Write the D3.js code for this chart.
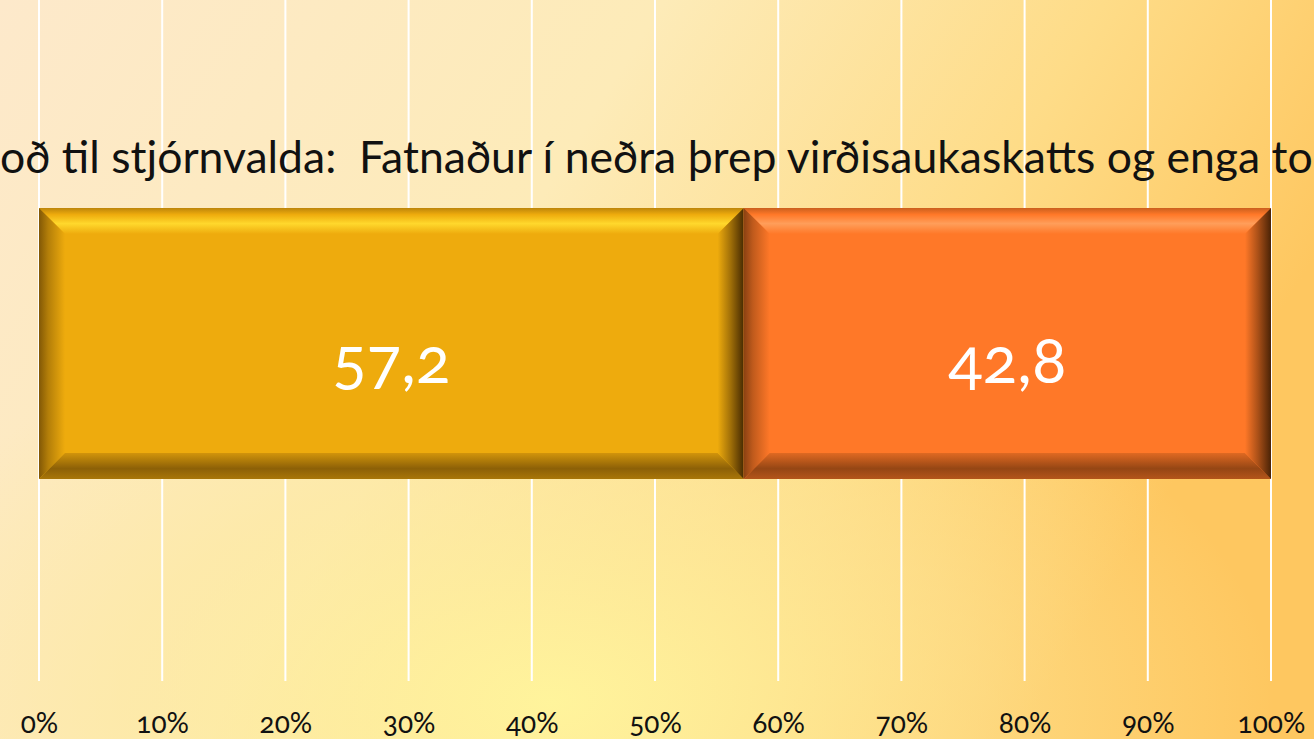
<!DOCTYPE html>
<html>
<head>
<meta charset="utf-8">
<script src="https://cdn.jsdelivr.net/npm/d3@7"></script>
<style>
  html, body { margin: 0; padding: 0; overflow: hidden; }
  svg { display: block; }
  text { font-family: Lato, "Open Sans", sans-serif; font-variant-numeric: oldstyle-nums; font-feature-settings: "onum" 1; }
</style>
</head>
<body>
<div class="chart"></div>
<script>
// data
var categories = ["Tilboð til stjórnvalda"];
var series = ["Já", "Nei"];
var values = [57.2, 42.8];
var seriesColors = ["#eeab0d", "#ff7828"];
var tickValues = [0, 10, 20, 30, 40, 50, 60, 70, 80, 90, 100];
var title = "Tilboð til stjórnvalda:  Fatnaður í neðra þrep virðisaukaskatts og enga tolla";

var W = 1314, H = 739;

var svg = d3.select(".chart").append("svg")
  .attr("width", W)
  .attr("height", H);

var defs = svg.append("defs");

// background
var bg = defs.append("linearGradient").attr("id", "bg")
  .attr("x1", 0).attr("y1", 0).attr("x2", 1).attr("y2", 0.35);
bg.append("stop").attr("offset", "0").attr("stop-color", "#fde9cb");
bg.append("stop").attr("offset", "0.45").attr("stop-color", "#fdebb8");
bg.append("stop").attr("offset", "0.75").attr("stop-color", "#fedc88");
bg.append("stop").attr("offset", "1").attr("stop-color", "#fec760");
svg.append("rect").attr("width", W).attr("height", H).attr("fill", "url(#bg)");

var glow = defs.append("radialGradient").attr("id", "glow")
  .attr("cx", 0.42).attr("cy", 0.95).attr("r", 0.55);
glow.append("stop").attr("offset", "0").attr("stop-color", "#fff59c").attr("stop-opacity", 0.95);
glow.append("stop").attr("offset", "0.6").attr("stop-color", "#fde89a").attr("stop-opacity", 0.5);
glow.append("stop").attr("offset", "1").attr("stop-color", "#fde89a").attr("stop-opacity", 0);
svg.append("rect").attr("width", W).attr("height", H).attr("fill", "url(#glow)");

var x = d3.scaleLinear().domain([0, 100]).range([39, 1271]);
var y = d3.scaleBand().domain(categories).range([208, 479]).padding(0);

// gridlines
svg.append("g").selectAll("line")
  .data(tickValues)
  .enter().append("line")
  .attr("x1", function(d) { return x(d); })
  .attr("x2", function(d) { return x(d); })
  .attr("y1", 0)
  .attr("y2", 681)
  .attr("stroke", "#ffffff")
  .attr("stroke-width", 2);

// title - runs off both edges like the slide
function textWidth(s, fs) {
  var p = svg.append("text").attr("font-size", fs).style("white-space", "pre").text(s);
  var w = p.node().getComputedTextLength();
  p.remove();
  return w;
}
var fs0 = 41;
var span = textWidth("oð til stjórnvalda:  Fatnaður í neðra þrep virðisaukaskatts og enga ", fs0);
var fs = fs0 * 1272 / span;
var pre = textWidth("Tilb", fs);
svg.append("text")
  .attr("x", -pre)
  .attr("y", 173)
  .attr("font-size", fs)
  .attr("fill", "#111")
  .style("white-space", "pre")
  .text(title);

// stacked segments
var segs = [];
var acc = 0;
values.forEach(function(v, i) {
  segs.push({ name: series[i], value: v, x0: acc, x1: acc + v, color: seriesColors[i] });
  acc += v;
});

var bev = 26;

function grad(id, x1, y1, x2, y2, stops) {
  var g = defs.append("linearGradient").attr("id", id)
    .attr("x1", x1).attr("y1", y1).attr("x2", x2).attr("y2", y2);
  stops.forEach(function(s) {
    g.append("stop").attr("offset", s[0]).attr("stop-color", s[1]);
  });
}

var bars = svg.append("g");
segs.forEach(function(d, i) {
  var a = x(d.x0), b = x(d.x1), top = y(categories[0]), bot = top + y.bandwidth();
  var c = d3.color(d.color);
  var light = i === 0 ? "#ffd82c" : "#ff9e5a";
  var dark = d3.interpolateRgb(d.color, "#2a1400");

  grad("top" + i, 0, 0, 0, 1, [[0, dark(0.25)], [0.25, c.formatHex()], [0.6, light], [1, c.formatHex()]]);
  grad("left" + i, 0, 0, 1, 0, [[0, dark(0.55)], [0.35, dark(0.3)], [1, c.formatHex()]]);
  grad("right" + i, 0, 0, 1, 0, [[0, c.formatHex()], [0.5, dark(0.4)], [1, dark(0.85)]]);
  grad("bot" + i, 0, 0, 0, 1, [[0, dark(0.15)], [0.6, dark(0.5)], [1, dark(0.35)]]);

  bars.append("rect")
    .attr("x", a).attr("y", top)
    .attr("width", b - a).attr("height", bot - top)
    .attr("fill", d.color);
  bars.append("path")
    .attr("d", "M" + a + "," + top + "L" + b + "," + top + "L" + (b - bev) + "," + (top + bev) + "L" + (a + bev) + "," + (top + bev) + "Z")
    .attr("fill", "url(#top" + i + ")");
  bars.append("path")
    .attr("d", "M" + a + "," + top + "L" + (a + bev) + "," + (top + bev) + "L" + (a + bev) + "," + (bot - bev) + "L" + a + "," + bot + "Z")
    .attr("fill", "url(#left" + i + ")");
  bars.append("path")
    .attr("d", "M" + a + "," + bot + "L" + (a + bev) + "," + (bot - bev) + "L" + (b - bev) + "," + (bot - bev) + "L" + b + "," + bot + "Z")
    .attr("fill", "url(#bot" + i + ")");
  bars.append("path")
    .attr("d", "M" + b + "," + top + "L" + b + "," + bot + "L" + (b - bev) + "," + (bot - bev) + "L" + (b - bev) + "," + (top + bev) + "Z")
    .attr("fill", "url(#right" + i + ")");

  bars.append("text")
    .attr("x", (a + b) / 2)
    .attr("y", 383)
    .attr("text-anchor", "middle")
    .attr("font-size", 64)
    .attr("fill", "#ffffff")
    .text(d3.format(".1f")(d.value).replace(".", ","));
});

// axis
var xAxis = d3.axisBottom(x)
  .tickValues(tickValues)
  .tickSize(0)
  .tickFormat(function(d) { return d + "%"; });

var ax = svg.append("g")
  .attr("transform", "translate(0,733)")
  .call(xAxis);
ax.select(".domain").remove();
ax.selectAll("text")
  .attr("y", 0)
  .attr("dy", 0)
  .attr("font-size", 28)
  .attr("fill", "#111")
  .style("font-family", "Lato, 'Open Sans', sans-serif");
</script>
</body>
</html>
